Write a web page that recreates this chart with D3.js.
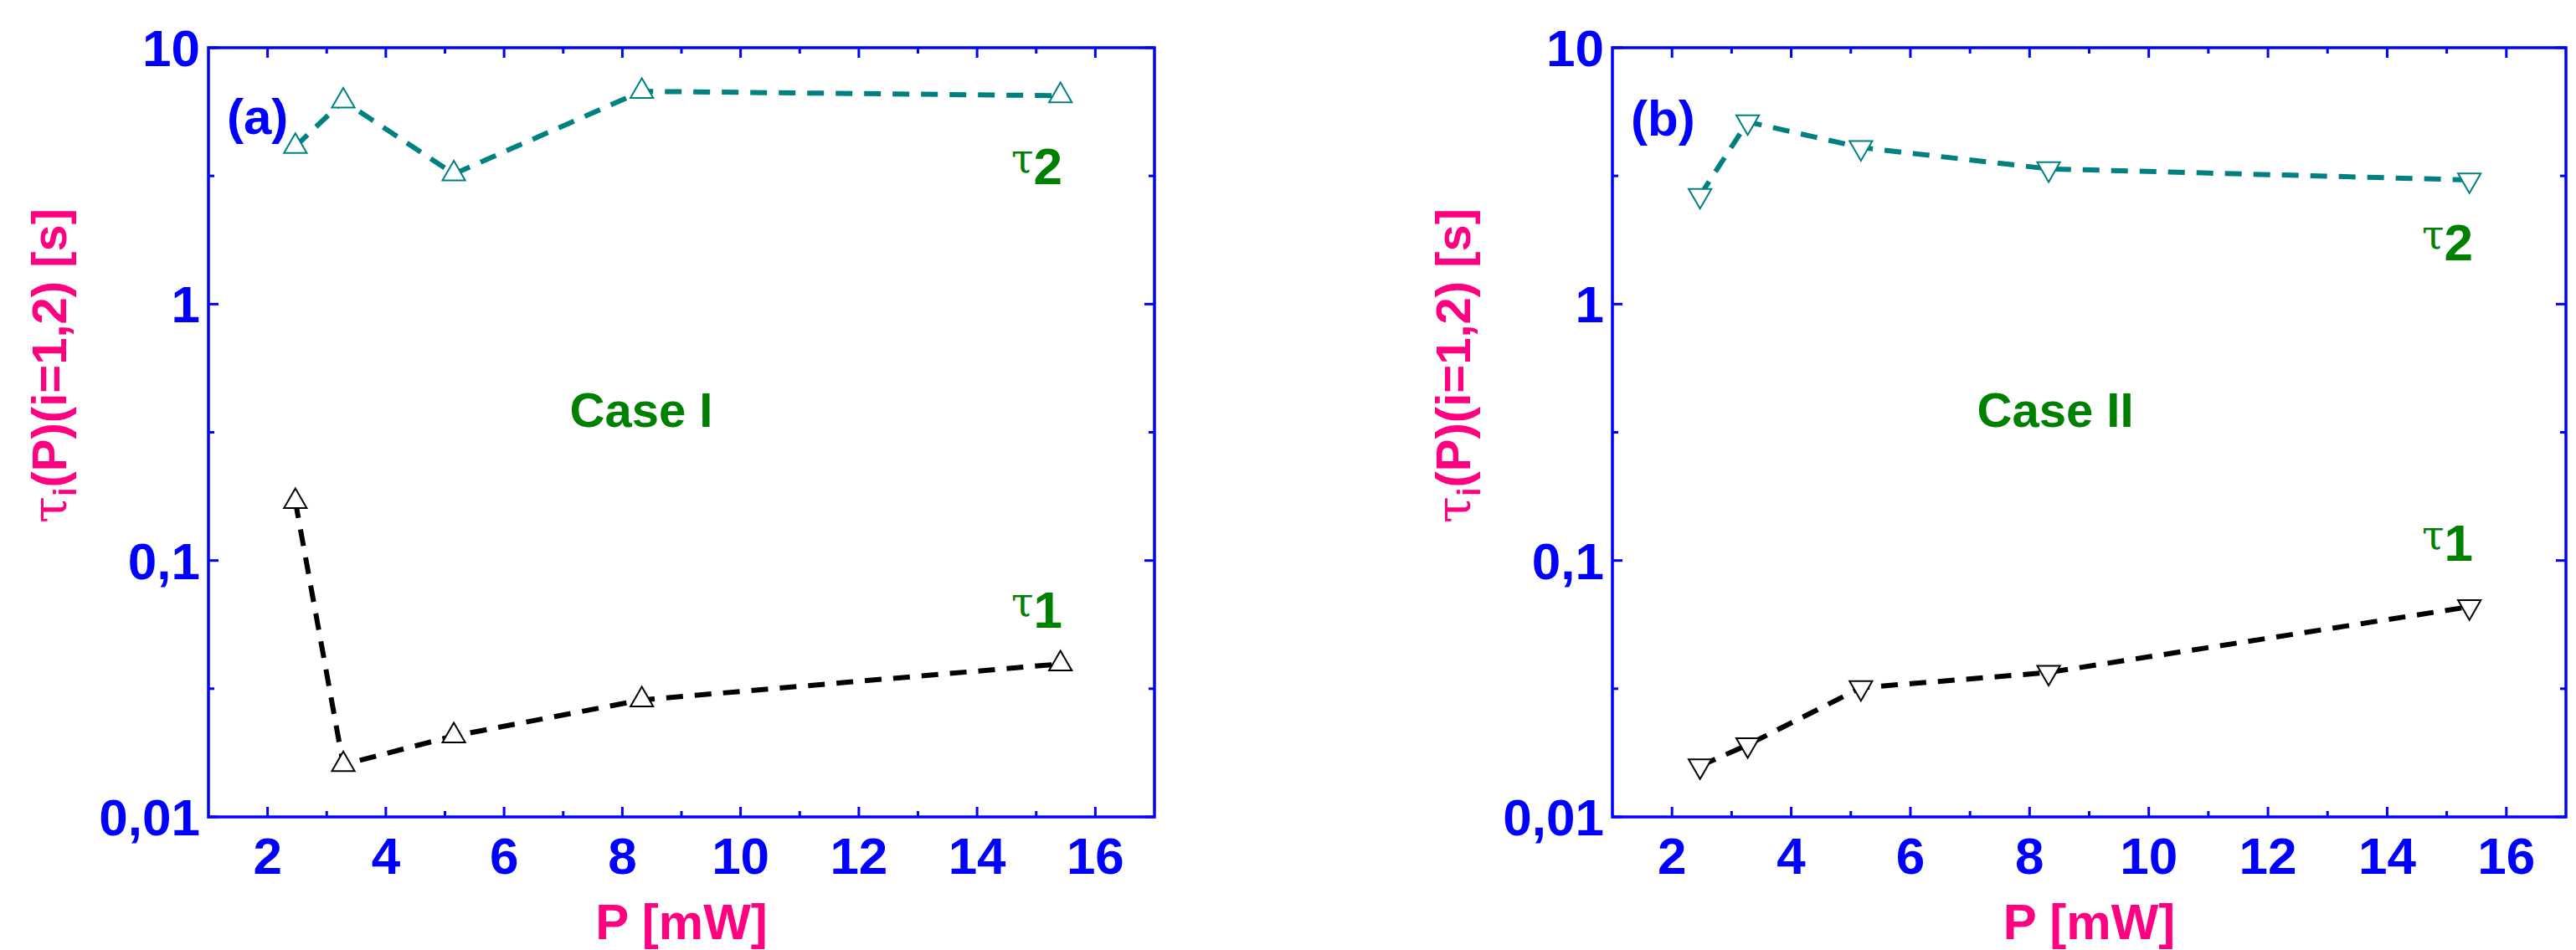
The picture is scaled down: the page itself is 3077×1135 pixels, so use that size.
<!DOCTYPE html>
<html><head><meta charset="utf-8">
<script src="https://cdn.jsdelivr.net/npm/d3@7"></script>
<style>body{margin:0;background:#fff}text{font-family:"Liberation Sans Narrow","Arial Narrow","Liberation Sans",sans-serif;font-weight:bold}</style>
</head><body>
<svg width="3077" height="1135"></svg>
<script>
// data
const powerA = [2.47, 3.28, 5.15, 8.33, 15.41];
const tau1A = [0.17, 0.016, 0.0207, 0.0286, 0.0395];
const tau2A = [4.12, 6.2, 3.22, 6.76, 6.5];
const powerB = [2.47, 3.27, 5.17, 8.32, 15.38];
const tau1B = [0.0158, 0.0191, 0.0319, 0.0366, 0.066];
const tau2B = [2.65, 5.14, 4.08, 3.37, 3.05];
const yTicks = [0.01, 0.1, 1, 10];
const yTickLabels = ["0,01", "0,1", "1", "10"];
const xTicks = [2, 4, 6, 8, 10, 12, 14, 16];

const svg = d3.select("svg");
const blue = "#0000ff", pink = "#ff0080", green = "#008000", teal = "#008080";

function panel(o) {
  const x = d3.scaleLinear().domain([1, 17]).range([o.left, o.right]);
  const y = d3.scaleLog().domain([0.01, 10]).range([976, 57]);
  const g = svg.append("g");

  // ticks (inward) all sides
  const minorY = [0.01, 0.1, 1].map(d => d * Math.sqrt(10));
  for (let v = 2; v <= 16; v++) {
    const len = v % 2 == 0 ? 12 : 7;
    g.append("line").attr("x1", x(v)).attr("x2", x(v)).attr("y1", 976).attr("y2", 976 - len).attr("stroke", blue).attr("stroke-width", 3);
    g.append("line").attr("x1", x(v)).attr("x2", x(v)).attr("y1", 57).attr("y2", 57 + len).attr("stroke", blue).attr("stroke-width", 3);
  }
  yTicks.concat(minorY).forEach((v, i) => {
    const len = i < 4 ? 12 : 7;
    g.append("line").attr("x1", o.left).attr("x2", o.left + len).attr("y1", y(v)).attr("y2", y(v)).attr("stroke", blue).attr("stroke-width", 3);
    g.append("line").attr("x1", o.right).attr("x2", o.right - len).attr("y1", y(v)).attr("y2", y(v)).attr("stroke", blue).attr("stroke-width", 3);
  });
  g.append("rect").attr("x", o.left).attr("y", 57).attr("width", o.right - o.left).attr("height", 919)
    .attr("fill", "none").attr("stroke", blue).attr("stroke-width", 3.5);

  g.selectAll(".xl").data(xTicks).join("text").attr("x", d => x(d)).attr("y", 1044)
    .attr("text-anchor", "middle").attr("font-size", 62).attr("fill", blue).text(d => d);
  g.selectAll(".yl").data(yTicks).join("text").attr("x", o.left - 10).attr("y", d => y(d) + 22)
    .attr("text-anchor", "end").attr("font-size", 62).attr("fill", blue).text((d, i) => yTickLabels[i]);

  g.append("text").attr("x", (o.left + o.right) / 2).attr("y", 1122).attr("text-anchor", "middle")
    .attr("font-size", 60).attr("fill", pink).text("P [mW]");
  const yl = g.append("text").attr("transform", `translate(${o.left - 170},437) rotate(-90)`)
    .attr("text-anchor", "middle").attr("font-size", 58).attr("fill", pink);
  yl.append("tspan").attr("font-family", "DejaVu Serif").attr("font-weight", "normal").text("τ");
  yl.append("tspan").attr("font-size", 38).attr("dy", 12).text("i");
  yl.append("tspan").attr("dy", -12).text("(P)(i=1,2) [s]");

  const line = d3.line().x(d => x(d[0])).y(d => y(d[1]));
  const sym = d3.symbol().type(d3.symbolTriangle).size(320);
  [[o.t2, teal], [o.t1, "#000"]].forEach(([vals, c]) => {
    const pts = o.p.map((p, i) => [p, vals[i]]);
    g.append("path").attr("d", line(pts)).attr("fill", "none").attr("stroke", c)
      .attr("stroke-width", 6).attr("stroke-dasharray", "20,14");
    g.selectAll(null).data(pts).join("path").attr("d", sym)
      .attr("transform", d => `translate(${x(d[0])},${y(d[1])}) rotate(${o.down ? 180 : 0})`)
      .attr("fill", "#fff").attr("stroke", c).attr("stroke-width", 2);
  });

  g.append("text").attr("x", o.left + 22).attr("y", o.tagY).attr("font-size", 60).attr("fill", blue).text(o.tag);
  g.append("text").attr("x", o.caseX).attr("y", 510).attr("text-anchor", "middle").attr("font-size", 58).attr("fill", green).text(o.caseTxt);
  [[o.t2y, "2"], [o.t1y, "1"]].forEach(([yy, n]) => {
    const t = g.append("text").attr("x", o.tauX).attr("y", yy).attr("font-size", 62).attr("fill", green);
    t.append("tspan").attr("font-family", "DejaVu Serif").attr("font-weight", "normal").attr("font-size", 48).attr("dy", -14).text("τ");
    t.append("tspan").attr("dy", 14).text(n);
  });
}

panel({left: 249, right: 1379, p: powerA, t1: tau1A, t2: tau2A, down: false, tag: "(a)", tagY: 160,
  caseTxt: "Case I", caseX: 766, tauX: 1208, t2y: 220, t1y: 750});
panel({left: 1926, right: 3065, p: powerB, t1: tau1B, t2: tau2B, down: true, tag: "(b)", tagY: 162,
  caseTxt: "Case II", caseX: 2455, tauX: 2893, t2y: 311, t1y: 670});
</script>
</body></html>
